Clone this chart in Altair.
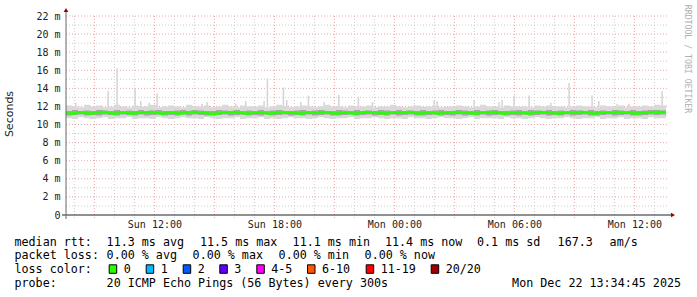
import altair as alt
import pandas as pd
from datetime import datetime, timedelta, timezone

UTC = timezone.utc
START = datetime(2025, 12, 21, 7, 34, 45, tzinfo=UTC)
END = datetime(2025, 12, 22, 13, 34, 45, tzinfo=UTC)
STEP_MIN = 18

# ---- data (ms of RTT), one value per 18-minute bin ----
median = [11.3,11.2,11.3,11.3,11.2,11.3,11.4,11.3,11.2,11.3,
          11.3,11.2,11.3,11.3,11.4,11.3,11.2,11.3,11.3,11.2,
          11.3,11.4,11.3,11.3,11.2,11.2,11.3,11.3,11.4,11.3,
          11.2,11.3,11.3,11.3,11.2,11.3,11.4,11.3,11.3,11.2,
          11.3,11.3,11.3,11.4,11.3,11.2,11.3,11.3,11.2,11.3,
          11.4,11.3,11.3,11.2,11.3,11.3,11.3,11.4,11.3,11.2,
          11.3,11.3,11.2,11.3,11.3,11.4,11.3,11.3,11.2,11.3,
          11.3,11.4,11.3,11.2,11.3,11.3,11.3,11.2,11.3,11.4,
          11.3,11.3,11.2,11.3,11.3,11.3,11.4,11.3,11.2,11.3,
          11.3,11.3,11.4,11.3,11.3,11.2,11.3,11.3,11.4,11.4]
low = [10.7,10.6,10.8,10.7,10.6,10.7,10.8,10.6,10.7,10.7,
       10.8,10.6,10.7,10.7,10.6,10.8,10.7,10.6,10.7,10.8,
       10.7,10.7,10.6,10.8,10.7,10.6,10.7,10.7,10.8,10.6,
       10.7,10.7,10.8,10.6,10.7,10.6,10.7,10.8,10.7,10.7,
       10.6,10.7,10.8,10.7,10.6,10.7,10.7,10.8,10.6,10.7,
       10.7,10.8,10.7,10.6,10.7,10.7,10.6,10.8,10.7,10.7,
       10.6,10.7,10.8,10.7,10.7,10.6,10.7,10.8,10.6,10.7,
       10.7,10.7,10.6,10.8,10.7,10.7,10.6,10.7,10.8,10.7,
       10.6,10.7,10.7,10.8,10.7,10.6,10.7,10.7,10.8,10.6,
       10.7,10.7,10.8,10.6,10.7,10.7,10.6,10.8,10.7,10.7]
high = [12.1,12.0,11.9,12.2,12.0,12.1,11.9,12.0,12.2,12.0,
        11.9,12.1,12.0,12.0,12.2,11.9,12.0,12.1,12.0,11.9,
        12.2,12.0,12.0,12.1,11.9,12.0,12.2,12.0,11.9,12.1,
        12.0,12.0,12.1,11.9,12.0,12.2,12.0,11.9,12.0,12.1,
        12.0,11.9,12.0,12.2,12.0,12.0,11.9,12.1,12.0,12.0,
        12.1,11.9,12.0,12.0,12.2,12.0,11.9,12.0,12.1,12.0,
        12.0,12.1,11.9,12.0,12.0,12.1,12.0,11.9,12.0,12.2,
        12.0,12.0,11.9,12.1,12.0,12.0,12.0,11.9,12.1,12.0,
        12.1,12.0,12.0,11.9,12.0,12.1,12.0,12.0,11.9,12.1,
        12.0,12.0,12.1,11.9,12.0,12.0,12.1,12.0,12.2,12.1]
q_low = [11.0,11.05,11.1,11.0,11.05,11.0,11.1,11.05,11.0,11.1,
         11.05,11.0,11.1,11.0,11.05,11.1,11.0,11.05,11.0,11.1,
         11.0,11.1,11.05,11.0,11.0,11.05,11.1,11.0,11.05,11.1,
         11.0,11.05,11.0,11.1,11.0,11.05,11.1,11.0,11.05,11.0,
         11.1,11.0,11.05,11.1,11.0,11.0,11.05,11.1,11.0,11.05,
         11.1,11.0,11.05,11.0,11.1,11.0,11.05,11.1,11.0,11.0,
         11.05,11.1,11.0,11.05,11.0,11.1,11.0,11.05,11.0,11.1,
         11.0,11.05,11.1,11.0,11.05,11.0,11.1,11.0,11.05,11.1,
         11.0,11.05,11.0,11.1,11.0,11.05,11.1,11.0,11.0,11.05,
         11.1,11.0,11.05,11.1,11.0,11.0,11.05,11.1,11.05,11.1]
q_high = [11.5,11.6,11.5,11.55,11.5,11.6,11.55,11.5,11.6,11.5,
          11.55,11.5,11.6,11.5,11.55,11.6,11.5,11.5,11.55,11.6,
          11.5,11.6,11.55,11.5,11.5,11.6,11.55,11.5,11.6,11.5,
          11.55,11.5,11.6,11.5,11.55,11.6,11.5,11.5,11.55,11.6,
          11.5,11.55,11.6,11.5,11.5,11.6,11.55,11.5,11.6,11.5,
          11.55,11.5,11.6,11.55,11.5,11.6,11.5,11.55,11.5,11.6,
          11.5,11.55,11.6,11.5,11.5,11.6,11.55,11.5,11.6,11.5,
          11.55,11.6,11.5,11.5,11.55,11.6,11.5,11.6,11.55,11.5,
          11.6,11.5,11.55,11.5,11.6,11.55,11.5,11.6,11.5,11.55,
          11.5,11.6,11.55,11.5,11.6,11.5,11.55,11.6,11.6,11.55]

# isolated smoke spikes: time, top value (ms)
spike_times = ["2025-12-21 08:04","2025-12-21 09:41","2025-12-21 10:08","2025-12-21 11:02",
               "2025-12-21 11:19","2025-12-21 11:44","2025-12-21 12:08","2025-12-21 14:23",
               "2025-12-21 14:38","2025-12-21 16:04","2025-12-21 16:34","2025-12-21 17:29",
               "2025-12-21 17:39","2025-12-21 18:27","2025-12-21 18:37","2025-12-21 19:19",
               "2025-12-21 19:42","2025-12-21 20:29","2025-12-21 21:13","2025-12-21 22:12",
               "2025-12-21 22:54","2025-12-22 00:59","2025-12-22 01:59","2025-12-22 02:08",
               "2025-12-22 03:59","2025-12-22 05:14","2025-12-22 05:23","2025-12-22 05:59",
               "2025-12-22 06:44","2025-12-22 07:49","2025-12-22 08:23","2025-12-22 08:44",
               "2025-12-22 09:53","2025-12-22 10:13","2025-12-22 11:08","2025-12-22 11:43",
               "2025-12-22 13:23"]
spike_tops = [12.4,13.7,16.2,14.0,12.6,12.4,13.4,12.3,12.5,12.3,12.6,12.6,15.1,14.1,12.7,
              12.5,13.2,12.5,13.3,13.0,12.5,12.2,12.7,12.6,12.7,12.5,12.7,13.2,13.2,12.4,
              12.0,14.6,13.2,12.6,12.3,12.3,13.7]
SPIKE_BASE = 11.9

x_tick_times = ["2025-12-21 12:00","2025-12-21 18:00","2025-12-22 00:00",
                "2025-12-22 06:00","2025-12-22 12:00"]
y_ticks = [0,2,4,6,8,10,12,14,16,18,20,22]

loss_labels = ["0","1","2","3","4-5","6-10","11-19","20/20"]
loss_colors = ["#26ff00","#00b8ff","#0059ff","#5e00ff","#ff00ff","#ff5500","#ff0000","#a10000"]

stats_row1 = ["median rtt:","11.3 ms avg","11.5 ms max","11.1 ms min","11.4 ms now",
              "0.1 ms sd","167.3","am/s"]
stats_row2 = ["packet loss:","0.00 % avg","0.00 % max","0.00 % min","0.00 % now"]
probe_text = ["probe:","20 ICMP Echo Pings (56 Bytes) every 300s"]
date_text = "Mon Dec 22 13:34:45 2025"

# ---- helpers ----
def ms(dt):
    return int(dt.timestamp() * 1000)

def ms_str(s):
    return ms(datetime.strptime(s, "%Y-%m-%d %H:%M").replace(tzinfo=UTC))

n = len(median)
t = [ms(START + timedelta(minutes=STEP_MIN * i)) for i in range(n)]
band = pd.DataFrame({"t": t + [ms(END)],
                     "lo": low + [low[-1]], "hi": high + [high[-1]],
                     "q1": q_low + [q_low[-1]], "q3": q_high + [q_high[-1]],
                     "med": median + [median[-1]]})
spikes = pd.DataFrame({"t": [ms_str(s) for s in spike_times],
                       "b": [SPIKE_BASE] * len(spike_tops), "top": spike_tops})

hours = [datetime(2025, 12, 21, 8, tzinfo=UTC) + timedelta(hours=h) for h in range(30)]
vgrid = pd.DataFrame({"t": [ms(h) for h in hours],
                      "major": [h.hour % 3 == 0 for h in hours]})
hgrid = pd.DataFrame({"v": list(range(1, 23)),
                      "major": [v % 2 == 0 for v in range(1, 23)]})

PW, PH = 600, 199
PAD_L, PAD_T = 66, 16
MONO = "DejaVu Sans Mono"

xscale = alt.Scale(type="utc", domain=[ms(START), ms(END)])
yscale = alt.Scale(domain=[0, 22], nice=False)

xaxis = alt.Axis(values=[ms_str(s) for s in x_tick_times],
                 labelExpr="utcFormat(datum.value, '%a %H:%M')",
                 title=None, grid=False, domain=False, ticks=False,
                 labelFont=MONO, labelFontSize=10, labelColor="#222",
                 labelPadding=4, labelAngle=0)
yaxis = alt.Axis(values=y_ticks,
                 labelExpr="datum.value == 0 ? '0' : datum.value + ' m'",
                 title=None, grid=False, domain=False, ticks=False,
                 labelFont=MONO, labelFontSize=10, labelColor="#222",
                 labelPadding=6)

X = alt.X("t:T", scale=xscale, axis=xaxis)
Y = lambda f: alt.Y(f, scale=yscale, axis=yaxis)

one = pd.DataFrame({"a": [0]})
layers = []

# grids
for major, col in [(False, "#cccccc"), (True, "#e8a6a6")]:
    layers.append(alt.Chart(vgrid[vgrid.major == major]).mark_rule(
        color=col, strokeDash=[1, 2], strokeWidth=1).encode(
        x=X, y=alt.value(0), y2=alt.value(PH + 3)))
    layers.append(alt.Chart(hgrid[hgrid.major == major]).mark_rule(
        color=col, strokeDash=[1, 2], strokeWidth=1).encode(
        y=Y("v:Q"), x=alt.value(0), x2=alt.value(PW + 2)))

# smoke
layers.append(alt.Chart(spikes).mark_rule(color="#d4d4d4", strokeWidth=1.5).encode(
    x=X, y=Y("b:Q"), y2="top:Q"))
layers.append(alt.Chart(band).mark_area(color="#d9d9d9", interpolate="step-after").encode(
    x=X, y=Y("lo:Q"), y2="hi:Q"))
layers.append(alt.Chart(band).mark_area(color="#a6a6a6", interpolate="step-after").encode(
    x=X, y=Y("q1:Q"), y2="q3:Q"))
layers.append(alt.Chart(band).mark_line(color="#26ff00", strokeWidth=2.5).encode(
    x=X, y=Y("med:Q")))

# axis lines and arrows
layers.append(alt.Chart(one).mark_rule(color="#222", strokeWidth=1).encode(
    x=alt.value(-4), x2=alt.value(PW + 5), y=alt.value(PH)))
layers.append(alt.Chart(one).mark_rule(color="#666", strokeWidth=1).encode(
    x=alt.value(0), y=alt.value(PH + 4), y2=alt.value(-5)))
layers.append(alt.Chart(one).mark_point(shape="triangle-right", filled=True, size=22,
                                        color="#990000", opacity=1).encode(
    x=alt.value(PW + 7), y=alt.value(PH)))
layers.append(alt.Chart(one).mark_point(shape="triangle-up", filled=True, size=22,
                                        color="#990000", opacity=1).encode(
    x=alt.value(0), y=alt.value(-6)))

def text(s, ax, ay, size=11.7, font=MONO, color="#000", align="left", angle=0):
    kw = dict(font=font, fontSize=size, color=color, align=align, baseline="middle")
    if angle:
        kw["angle"] = angle
    return alt.Chart(one).mark_text(**kw).encode(
        x=alt.value(ax - PAD_L), y=alt.value(ay - PAD_T), text=alt.value(s))

# y title and watermark
layers.append(text("Seconds", 10, 114, size=11, font="DejaVu Sans", color="#222", align="center", angle=270))
layers.append(text("RRDTOOL / TOBI OETIKER", 687, 59, size=8.2, color="#b0b0b0", align="center", angle=90))

# legend rows
row1_x = [14.5, 106.6, 200.0, 292.6, 385.0, 477.0, 557.6, 609.6]
for s, ax in zip(stats_row1, row1_x):
    layers.append(text(s, ax, 241.5))
row2_x = [14.5, 106.6, 192.6, 278.6, 364.6]
for s, ax in zip(stats_row2, row2_x):
    layers.append(text(s, ax, 255.0))
layers.append(text("loss color:", 14.5, 269.3))
box_x = [108.7, 145.7, 182.7, 219.3, 256.3, 307.0, 365.7, 430.7]
for lab, col, bx in zip(loss_labels, loss_colors, box_x):
    layers.append(alt.Chart(one).mark_rect(color=col, stroke="#000", strokeWidth=1).encode(
        x=alt.value(bx - PAD_L + 0.5), x2=alt.value(bx - PAD_L + 8.0),
        y=alt.value(264.8 - PAD_T), y2=alt.value(273.3 - PAD_T)))
    layers.append(text(lab, bx + 15.0, 269.3))
layers.append(text(probe_text[0], 14.5, 282.7))
layers.append(text(probe_text[1], 106.6, 282.7))
layers.append(text(date_text, 681, 282.7, align="right"))

chart = alt.layer(*layers).properties(
    width=PW, height=PH,
    autosize=alt.AutoSizeParams(type="none"),
    padding={"left": PAD_L, "top": PAD_T, "right": 697 - PAD_L - PW, "bottom": 297 - PAD_T - PH},
    background="white",
).configure_view(stroke=None)

chart.save("out.html", embed_options={"renderer": "svg", "actions": False})
